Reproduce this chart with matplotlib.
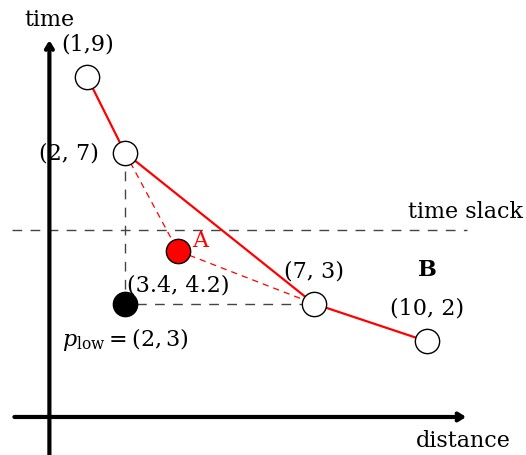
import matplotlib.pyplot as plt

plt.rcParams['font.family'] = ['DejaVu Serif']
plt.rcParams['mathtext.fontset'] = 'dejavuserif'

# pareto points (distance, time)
px = [1, 2, 7, 10]
py = [9, 7, 3, 2]
labels = ['(1,9)', '(2, 7)', '(7, 3)', '(10, 2)']

# point A and the low point
ax_, ay_ = 3.4, 4.4
low_x, low_y = 2, 3
slack = 4.94

fig = plt.figure(figsize=(5.26, 4.56), dpi=100)
ax = fig.add_axes([0, 0, 1, 1])
ax.set_xlim(-1.307, 12.61)
ax.set_ylim(-1.007, 11.07)
ax.axis('off')

# axes arrows
ax.annotate('', xy=(11.1, 0), xytext=(-1, 0),
            arrowprops=dict(arrowstyle='->,head_length=0.4,head_width=0.25', lw=3, color='black'))
ax.annotate('', xy=(0, 10.05), xytext=(0, -1.1),
            arrowprops=dict(arrowstyle='->,head_length=0.4,head_width=0.25', lw=3, color='black'))

# dashed helper lines
ax.plot([-1, 11.05], [slack, slack], color='#444444', lw=1, dashes=(7, 6))
ax.plot([px[1], low_x, px[2]], [py[1], low_y, py[2]], color='#444444', lw=1, dashes=(7, 6))
ax.plot([px[1], ax_, px[2]], [py[1], ay_, py[2]], color='red', lw=0.9, dashes=(5, 4))

# pareto line
ax.plot(px, py, color='red', lw=1.6)
ax.plot(px, py, 'o', ms=17.5, mfc='white', mec='black', mew=1)
ax.plot([ax_], [ay_], 'o', ms=17.5, mfc='red', mec='black', mew=1)
ax.plot([low_x], [low_y], 'o', ms=17.5, mfc='black', mec='black', mew=1)

fs = 16
ax.text(1, 9.88, labels[0], fontsize=fs, ha='center', va='center')
ax.text(0.52, 7, labels[1], fontsize=fs, ha='center', va='center')
ax.text(7, 3.89, labels[2], fontsize=fs, ha='center', va='center')
ax.text(10, 2.89, labels[3], fontsize=fs, ha='center', va='center')
ax.text(4.0, 4.69, 'A', fontsize=fs, ha='center', va='center', color='red')
ax.text(3.4, 3.5, '(3.4, 4.2)', fontsize=fs, ha='center', va='center')
ax.text(10, 3.92, 'B', fontsize=fs, ha='center', va='center', fontweight='bold')
ax.text(2.0, 2.07, r'$p_{\mathrm{low}} = (2, 3)$', fontsize=fs, ha='center', va='center')
ax.text(11.0, 5.46, 'time slack', fontsize=fs, ha='center', va='center')
ax.text(10.94, -0.61, 'distance', fontsize=fs, ha='center', va='center')
ax.text(0.0, 10.54, 'time', fontsize=fs, ha='center', va='center')

fig.savefig('out.png', dpi=100)
